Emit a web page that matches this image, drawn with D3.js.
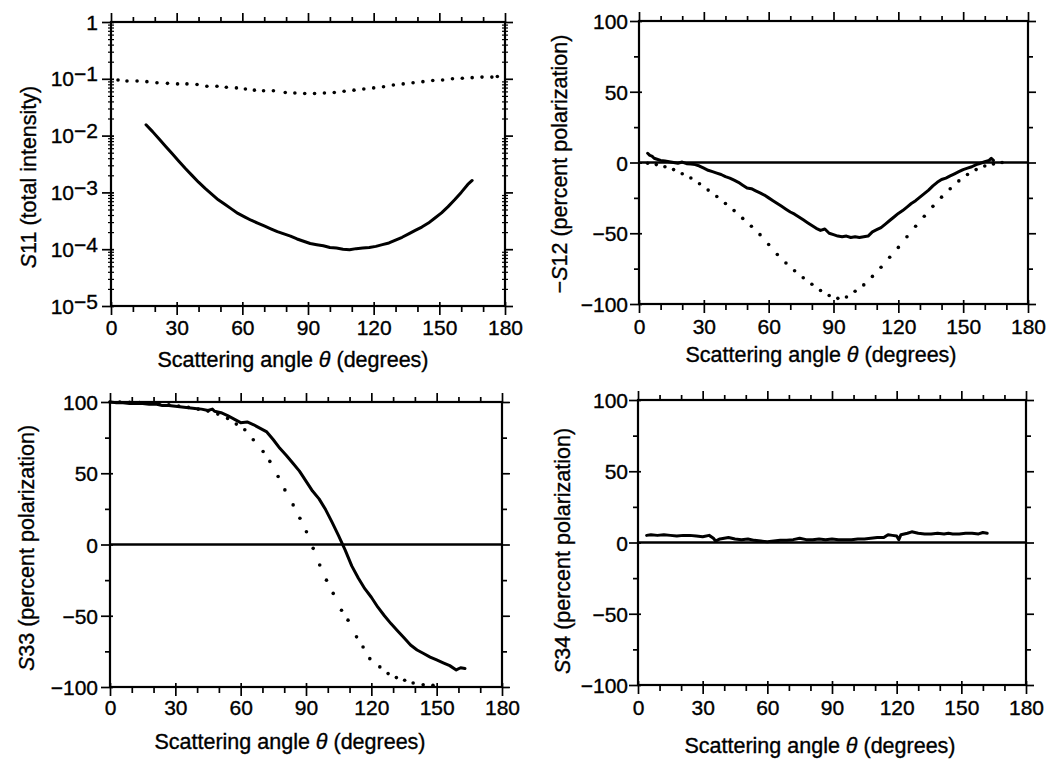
<!DOCTYPE html>
<html><head><meta charset="utf-8">
<script src="https://cdn.jsdelivr.net/npm/d3@7/dist/d3.min.js"></script>
<style>
body{margin:0;background:#fff;}
svg text{font-family:"Liberation Sans",Arial,Helvetica,sans-serif;fill:#000;stroke:#000;stroke-width:0.35px;}
</style></head><body>
<svg id="chart" width="1052" height="761"></svg>
<script>
// ---------- tick values ----------
const angleTicks = [0, 30, 60, 90, 120, 150, 180];
const angleMinorTicks = [10, 20, 40, 50, 70, 80, 100, 110, 130, 140, 160, 170];
const polTicks = [-100, -50, 0, 50, 100];
const polMinorTicks = [-75, -25, 25, 75];
const s11DecadeExps = [0, -1, -2, -3, -4, -5];

// ---------- S11 (log10 of total intensity) ----------
const s11MeasuredLog = [[16,-1.81],[19,-1.93],[22,-2.06],[25,-2.19],[28,-2.32],[31,-2.45],[34,-2.58],[37,-2.70],[40,-2.82],[43,-2.93],[46,-3.03],[49,-3.13],[52,-3.21],[55,-3.29],[58,-3.37],[61,-3.43],[64,-3.49],[67,-3.54],[70,-3.59],[73,-3.64],[76,-3.69],[79,-3.73],[82,-3.77],[85,-3.82],[88,-3.86],[91,-3.90],[94,-3.92],[97,-3.94],[100,-3.97],[103,-3.98],[106,-4.00],[109,-4.01],[112,-3.99],[115,-3.98],[118,-3.97],[121,-3.95],[124,-3.92],[127,-3.89],[130,-3.84],[133,-3.79],[136,-3.73],[139,-3.67],[142,-3.61],[145,-3.54],[148,-3.45],[151,-3.36],[154,-3.25],[157,-3.13],[160,-3.00],[163,-2.86],[165,-2.79]];
const s11TheoryLog = [[3.2,-1.02],[7.3,-1.04],[11.9,-1.04],[16.4,-1.05],[21,-1.07],[25.8,-1.08],[30.4,-1.09],[34.7,-1.09],[39.3,-1.10],[43.8,-1.13],[48.4,-1.13],[52.7,-1.15],[57.3,-1.16],[61.4,-1.18],[65.5,-1.20],[69.7,-1.21],[74.2,-1.21],[79.6,-1.24],[84,-1.25],[88.5,-1.26],[93,-1.26],[97.5,-1.25],[102,-1.24],[106.5,-1.22],[111,-1.20],[115.5,-1.18],[120,-1.16],[124.5,-1.14],[129,-1.11],[133.5,-1.09],[138,-1.07],[142.5,-1.05],[147,-1.03],[151.5,-1.02],[156,-1.00],[160.5,-0.99],[165,-0.98],[169.5,-0.97],[174,-0.97],[176.5,-0.96]];

// ---------- -S12 ----------
const s12Measured = [[4,6.5],[5,5],[6,4.5],[7,3],[8,2.5],[10,1.5],[12,1],[14,0.5],[16,0],[18,-0.5],[20,0.3],[22,-0.8],[24,-1],[26,-1.5],[28,-2.5],[30,-4],[32,-5.5],[34,-6.5],[36,-7.5],[38,-8.5],[40,-10],[42,-11],[44,-12.5],[46,-14],[48,-16],[50,-18],[52,-18.5],[54,-20],[56,-21.5],[58,-23],[60,-25],[62,-27],[64,-29],[66,-31],[68,-33],[70,-35],[72,-36.5],[74,-38.5],[76,-40.5],[78,-42.5],[80,-44.5],[82,-46.5],[84,-48],[86,-47],[88,-50],[90,-51],[92,-52],[94,-52.5],[96,-52],[98,-53],[100,-52.5],[102,-53],[104,-52.5],[106,-52],[108,-49],[110,-47.5],[112,-46],[114,-43.5],[116,-41],[118,-38.5],[120,-36],[122,-34],[124,-31.5],[126,-29],[128,-27],[130,-24.5],[132,-22],[134,-19.5],[136,-16.5],[138,-14],[140,-12],[142,-11],[144,-9.5],[146,-8],[148,-6.5],[150,-5],[152,-4],[154,-3],[156,-1.5],[158,-0.5],[160,0.5],[162,1.5],[163,3],[164,1.5]];
const s12Theory = [[4,-0.5],[8,-1.5],[12,-3],[16,-5],[20,-8],[24,-11],[28,-15],[32,-19.5],[36,-24],[40,-29],[44,-34],[48,-39.5],[52,-45],[56,-51],[60,-58],[64,-65],[68,-71],[72,-76.5],[76,-81.5],[80,-86],[84,-90.5],[88,-94],[92,-96],[96,-95],[100,-91],[104,-86.5],[108,-80.5],[112,-74],[116,-67],[120,-60],[124,-52.5],[128,-45],[132,-38],[136,-31],[140,-24.5],[144,-18.5],[148,-13],[152,-8.5],[156,-5],[160,-2.5],[164,-1],[168,0]];

// ---------- S33 ----------
const s33Measured = [[0,100],[3,99.5],[6,99.5],[9,99],[12,99],[15,99],[18,98.5],[21,98.5],[24,97.5],[27,97.5],[30,97],[33,96.5],[36,96],[39,95.5],[42,95],[45,94],[47,95],[48,93.5],[51,92.5],[54,90.5],[57,88],[60,85.5],[63,86],[66,84],[69,81.5],[72,79],[75,73.5],[78,67.5],[81,62.5],[84,57],[87,51.5],[90,44.5],[93,37.5],[96,32],[99,24.5],[102,15.5],[105,6],[108,-4],[111,-15],[114,-23.5],[117,-31],[120,-37],[123,-44],[126,-50],[129,-55.5],[132,-60.5],[135,-65.5],[138,-70.5],[141,-74],[144,-76.5],[147,-79],[150,-81],[153,-83],[156,-85],[159,-88],[161,-86.5],[163,-87]];
const s33Theory = [[0,100],[4.5,99.9],[9,99.8],[13.5,99.6],[18,99.2],[22.5,98.7],[27,98],[31.5,97.2],[36,96.2],[40.5,95],[45,93.6],[49.5,91.5],[54,88.5],[58,84.5],[61.9,80.5],[65.8,73.5],[70.3,65.3],[73.4,58.3],[77.2,47.7],[80.3,38.3],[84.1,27.8],[87.2,18.4],[90.2,9],[93.3,-2.7],[96.3,-14.4],[99.4,-25],[102.5,-34.3],[106.3,-46.1],[109.3,-53.1],[113.2,-64.8],[116.2,-71.9],[119.3,-80.1],[123.9,-85.9],[127.7,-90.6],[131.5,-93.4],[135.3,-95.3],[139.2,-97.2],[143.8,-98.4],[148.3,-98.8]];

// ---------- S34 ----------
const s34Measured = [[4,5],[6,5.5],[9,5],[12,5.5],[15,5],[18,4.5],[21,5],[24,5],[27,4.5],[30,4],[33,5],[35,3],[36,1],[38,2.5],[40,3],[42,3.5],[45,2.5],[48,2],[51,2.5],[54,1.5],[57,1],[60,0.5],[63,1],[66,1.5],[69,1.5],[72,2],[75,3],[78,2],[81,2],[84,2.5],[87,2],[90,2.5],[93,2],[96,2],[99,2],[102,2.5],[105,2.5],[108,3],[111,3.5],[114,3.5],[116,5.5],[118,5],[120,4.5],[121,2],[122,5.5],[125,6.5],[127,7.5],[130,6.5],[133,6],[136,6],[139,6.5],[142,6],[144,6.5],[146,6],[149,6],[152,6.5],[155,6.5],[158,6],[160,7],[162,6.5]];

// ---------- texts ----------
const xTitle = ["Scattering angle ", "θ", " (degrees)"];

const svg = d3.select("#chart");
const FS = 21;     // tick labels
const TFS = 21.5;  // titles

function drawPanel(p) {
  const g = svg.append("g");
  const x = d3.scaleLinear().domain([0, 180]).range([p.l, p.r]);
  const y = p.log
    ? d3.scaleLog().domain([1e-5, 1]).range([p.b, p.t])
    : d3.scaleLinear().domain([-100, 100]).range([p.b, p.t]);

  const styleAxis = sel => {
    sel.select(".domain").remove();
    sel.selectAll(".tick line").attr("stroke", "#000").attr("stroke-width", 1.7);
  };

  // bottom axis
  g.append("g").attr("transform", `translate(0,${p.b})`)
    .call(d3.axisBottom(x).tickValues(angleMinorTicks).tickSize(6).tickSizeOuter(0).tickFormat(""))
    .call(styleAxis);
  const bx = g.append("g").attr("transform", `translate(0,${p.b})`)
    .call(d3.axisBottom(x).tickValues(angleTicks).tickSize(9).tickSizeOuter(0).tickFormat(d3.format("d")))
    .call(styleAxis);
  bx.selectAll(".tick line").attr("y1", -4);
  bx.selectAll("text").attr("y", p.xLabY).attr("dy", null)
    .style("font-size", FS + "px").attr("fill", "#000");

  // top axis
  g.append("g").attr("transform", `translate(0,${p.t})`)
    .call(d3.axisTop(x).tickValues(angleMinorTicks).tickSize(5).tickSizeOuter(0).tickFormat(""))
    .call(styleAxis);
  g.append("g").attr("transform", `translate(0,${p.t})`)
    .call(d3.axisTop(x).tickValues(angleTicks).tickSize(9).tickSizeOuter(0).tickFormat(""))
    .call(styleAxis);

  if (p.log) {
    const majors = s11DecadeExps.map(e => Math.pow(10, e));
    const minors = [];
    s11DecadeExps.slice(1).forEach(e => { for (let m = 2; m <= 9; m++) minors.push(m * Math.pow(10, e)); });
    const la = g.append("g").attr("transform", `translate(${p.l},0)`)
      .call(d3.axisLeft(y).tickValues(majors).tickSize(9).tickSizeOuter(0).tickFormat(""))
      .call(styleAxis);
    la.selectAll(".tick line").attr("x1", 3);
    const lm = g.append("g").attr("transform", `translate(${p.l},0)`)
      .call(d3.axisLeft(y).tickValues(minors).tickSize(3).tickSizeOuter(0).tickFormat(""))
      .call(styleAxis);
    lm.selectAll(".tick line").attr("x1", 3).attr("stroke-width", 1.2);
    g.append("g").attr("transform", `translate(${p.r},0)`)
      .call(d3.axisRight(y).tickValues(majors).tickSize(8).tickSizeOuter(0).tickFormat(""))
      .call(styleAxis);
    const rm = g.append("g").attr("transform", `translate(${p.r},0)`)
      .call(d3.axisRight(y).tickValues(minors).tickSize(3).tickSizeOuter(0).tickFormat(""))
      .call(styleAxis);
    rm.selectAll(".tick line").attr("x1", -3).attr("stroke-width", 1.2);
    // labels 1, 10^-1 ...
    s11DecadeExps.forEach(e => {
      const t = g.append("text").attr("x", p.l - p.yLabGap).attr("y", y(Math.pow(10, e)) + 7.5)
        .attr("text-anchor", "end").style("font-size", FS + "px");
      if (e === 0) { t.text("1"); }
      else {
        t.append("tspan").text("10");
        t.append("tspan").attr("dy", -5).text("\u2212" + (-e));
      }
    });
  } else {
    const la = g.append("g").attr("transform", `translate(${p.l},0)`)
      .call(d3.axisLeft(y).tickValues(polTicks).tickSize(9).tickSizeOuter(0).tickFormat(d => d < 0 ? "\u2212" + (-d) : d))
      .call(styleAxis);
    la.selectAll(".tick line").attr("x1", 3);
    la.selectAll("text").attr("x", -p.yLabGap).attr("dy", "0.36em")
      .style("font-size", FS + "px").attr("fill", "#000");
    g.append("g").attr("transform", `translate(${p.l},0)`)
      .call(d3.axisLeft(y).tickValues(polMinorTicks).tickSize(5).tickSizeOuter(0).tickFormat(""))
      .call(styleAxis);
    g.append("g").attr("transform", `translate(${p.r},0)`)
      .call(d3.axisRight(y).tickValues(polTicks).tickSize(8).tickSizeOuter(0).tickFormat(""))
      .call(styleAxis);
    g.append("g").attr("transform", `translate(${p.r},0)`)
      .call(d3.axisRight(y).tickValues(polMinorTicks).tickSize(5).tickSizeOuter(0).tickFormat(""))
      .call(styleAxis);
    // zero line
    g.append("line").attr("x1", x(0)).attr("x2", x(180)).attr("y1", y(0)).attr("y2", y(0))
      .attr("stroke", "#000").attr("stroke-width", 2.6);
  }

  // frame
  g.append("rect").attr("x", p.l).attr("y", p.t).attr("width", p.r - p.l).attr("height", p.b - p.t)
    .attr("fill", "none").attr("stroke", "#000").attr("stroke-width", 2.2);

  // theory dots
  if (p.dots) {
    g.append("g").selectAll("circle").data(p.dots).join("circle")
      .attr("cx", d => x(d[0])).attr("cy", d => y(d[1])).attr("r", 1.8).attr("fill", "#000");
  }
  // measured line
  if (p.line) {
    g.append("path").datum(p.line)
      .attr("d", d3.line().x(d => x(d[0])).y(d => y(d[1])))
      .attr("fill", "none").attr("stroke", "#000").attr("stroke-width", 3)
      .attr("stroke-linejoin", "round").attr("stroke-linecap", "round");
  }

  // x title
  const xt = g.append("text").attr("x", p.xtX).attr("y", p.xtY).attr("text-anchor", "middle")
    .style("font-size", TFS + "px");
  xt.append("tspan").text(xTitle[0]);
  xt.append("tspan").style("font-style", "italic").text(xTitle[1]);
  xt.append("tspan").text(xTitle[2]);

  // y title
  const yt = g.append("text").attr("transform", `translate(${p.ytX},${p.ytY}) rotate(-90)`)
    .attr("text-anchor", "middle").style("font-size", TFS + "px");
  if (p.yPre) yt.append("tspan").text(p.yPre);
  yt.append("tspan").style("font-style", "italic").text("S");
  yt.append("tspan").text(p.yTitle);
}

const toLin = arr => arr.map(([a, e]) => [a, Math.pow(10, e)]);

drawPanel({l: 111, r: 505, t: 22, b: 306, log: true, xLabY: 29, yLabGap: 13,
  xtX: 293, xtY: 367, ytX: 36, ytY: 177, yTitle: "11 (total intensity)",
  line: toLin(s11MeasuredLog), dots: toLin(s11TheoryLog)});
drawPanel({l: 639, r: 1028, t: 21, b: 304, log: false, xLabY: 30, yLabGap: 11,
  xtX: 821, xtY: 362, ytX: 567, ytY: 164, yPre: "\u2212", yTitle: "12 (percent polarization)",
  line: s12Measured, dots: s12Theory});
drawPanel({l: 110, r: 502, t: 402, b: 687, log: false, xLabY: 28, yLabGap: 12,
  xtX: 290, xtY: 749, ytX: 34, ytY: 548, yTitle: "33 (percent polarization)",
  line: s33Measured, dots: s33Theory});
drawPanel({l: 638, r: 1026, t: 400, b: 685, log: false, xLabY: 30, yLabGap: 10,
  xtX: 820, xtY: 753, ytX: 570, ytY: 551, yTitle: "34 (percent polarization)",
  line: s34Measured});
</script>
</body></html>
